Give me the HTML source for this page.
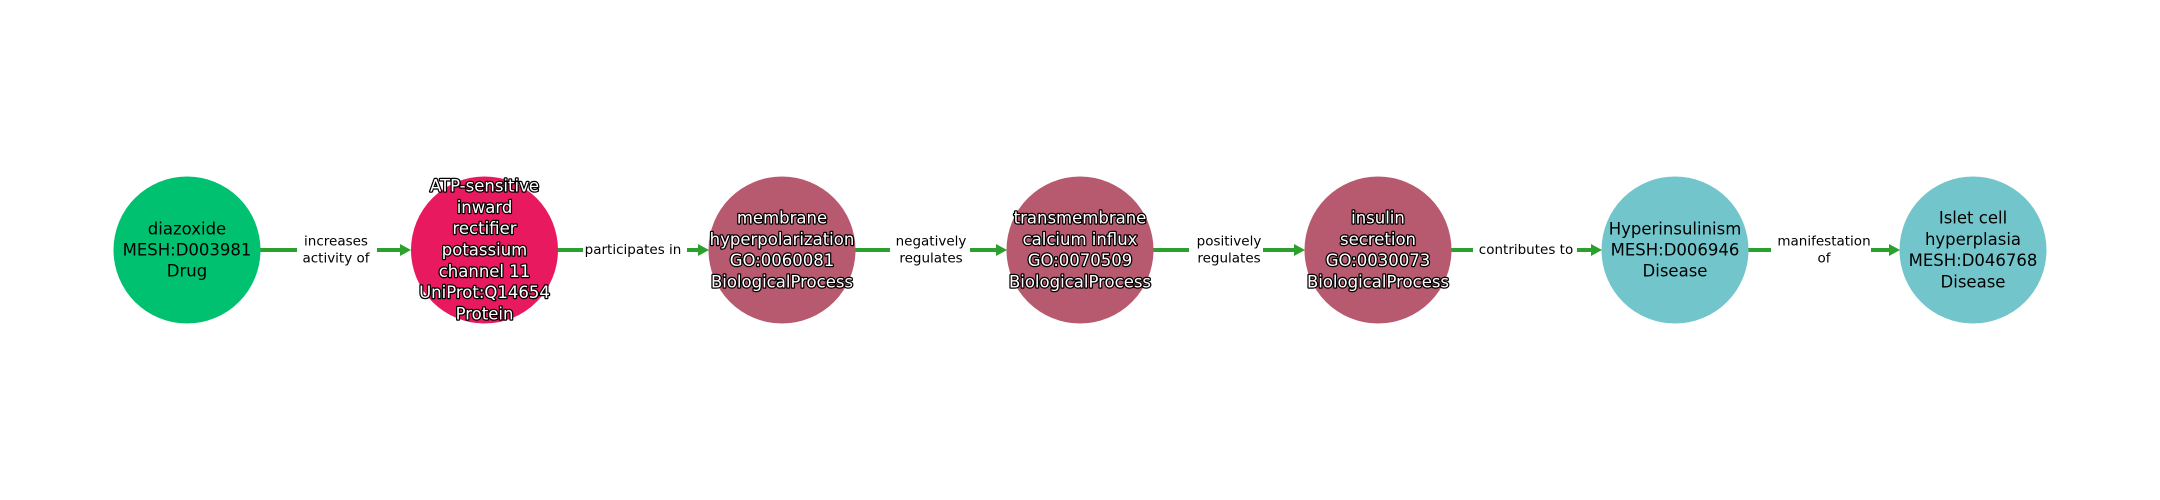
<!DOCTYPE html>
<html><head><meta charset="utf-8"><style>
html,body{margin:0;padding:0;background:#fff;width:2160px;height:500px;overflow:hidden}
svg{display:block}
.n{font-family:"DejaVu Sans","Liberation Sans",sans-serif;font-size:16.5px;text-anchor:middle;dominant-baseline:central}
.w{fill:#fff;stroke:#000;stroke-width:2.5px;paint-order:stroke;stroke-linejoin:round}
.e{font-family:"DejaVu Sans","Liberation Sans",sans-serif;font-size:13.5px;text-anchor:middle;dominant-baseline:central;fill:#000}
</style></head><body>
<svg width="2160" height="500" viewBox="0 0 2160 500" xmlns="http://www.w3.org/2000/svg">
<g stroke="#2ca02c" stroke-width="4">
<line x1="260" y1="250" x2="402" y2="250"/>
<line x1="557" y1="250" x2="700" y2="250"/>
<line x1="855" y1="250" x2="998" y2="250"/>
<line x1="1153" y1="250" x2="1296" y2="250"/>
<line x1="1451" y1="250" x2="1593" y2="250"/>
<line x1="1748" y1="250" x2="1891" y2="250"/>
</g>
<g fill="#2ca02c">
<polygon points="400,244 411,250 400,256"/>
<polygon points="698,244 709,250 698,256"/>
<polygon points="996,244 1007,250 996,256"/>
<polygon points="1294,244 1305,250 1294,256"/>
<polygon points="1591,244 1602,250 1591,256"/>
<polygon points="1889,244 1900,250 1889,256"/>
</g>
<g fill="#fff">
<rect x="297" y="232" width="80" height="36"/>
<rect x="583" y="241" width="104" height="18"/>
<rect x="890" y="232" width="80" height="36"/>
<rect x="1189" y="232" width="74" height="36"/>
<rect x="1473" y="241" width="104" height="18"/>
<rect x="1771" y="232" width="100" height="36"/>
</g>
<text class="e" x="336" y="241.5">increases</text><text class="e" x="336" y="258.5">activity of</text>
<text class="e" x="633" y="250">participates in</text>
<text class="e" x="931" y="241.5">negatively</text><text class="e" x="931" y="258.5">regulates</text>
<text class="e" x="1229" y="241.5">positively</text><text class="e" x="1229" y="258.5">regulates</text>
<text class="e" x="1526" y="250">contributes to</text>
<text class="e" x="1824" y="241.5">manifestation</text><text class="e" x="1824" y="258.5">of</text>

<circle cx="187" cy="250" r="73.5" fill="#00c170"/>
<circle cx="484.5" cy="250" r="73.5" fill="#e8195f"/>
<circle cx="782" cy="250" r="73.5" fill="#b85a6f"/>
<circle cx="1080" cy="250" r="73.5" fill="#b85a6f"/>
<circle cx="1378" cy="250" r="73.5" fill="#b85a6f"/>
<circle cx="1675" cy="250" r="73.5" fill="#72c6cb"/>
<circle cx="1973" cy="250" r="73.5" fill="#72c6cb"/>

<text class="n" x="187" y="229">diazoxide</text>
<text class="n" x="187" y="250">MESH:D003981</text>
<text class="n" x="187" y="271">Drug</text>

<g class="n w">
<text x="484.5" y="186">ATP-sensitive</text>
<text x="484.5" y="207.3">inward</text>
<text x="484.5" y="228.6">rectifier</text>
<text x="484.5" y="250">potassium</text>
<text x="484.5" y="271.3">channel 11</text>
<text x="484.5" y="292.6">UniProt:Q14654</text>
<text x="484.5" y="314">Protein</text>

<text x="782" y="218">membrane</text>
<text x="782" y="239.5">hyperpolarization</text>
<text x="782" y="260.5">GO:0060081</text>
<text x="782" y="282">BiologicalProcess</text>

<text x="1080" y="218">transmembrane</text>
<text x="1080" y="239.5">calcium influx</text>
<text x="1080" y="260.5">GO:0070509</text>
<text x="1080" y="282">BiologicalProcess</text>

<text x="1378" y="218">insulin</text>
<text x="1378" y="239.5">secretion</text>
<text x="1378" y="260.5">GO:0030073</text>
<text x="1378" y="282">BiologicalProcess</text>
</g>

<text class="n" x="1675" y="229">Hyperinsulinism</text>
<text class="n" x="1675" y="250">MESH:D006946</text>
<text class="n" x="1675" y="271">Disease</text>

<text class="n" x="1973" y="218">Islet cell</text>
<text class="n" x="1973" y="239.5">hyperplasia</text>
<text class="n" x="1973" y="260.5">MESH:D046768</text>
<text class="n" x="1973" y="282">Disease</text>
</svg>
</body></html>
